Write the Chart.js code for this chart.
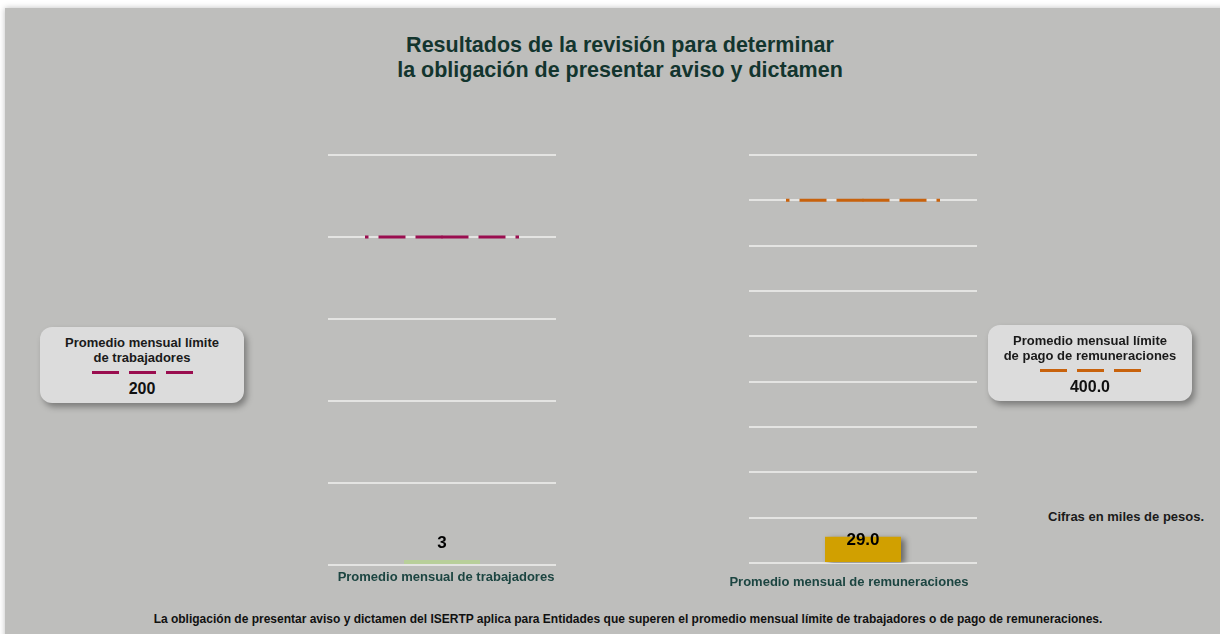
<!DOCTYPE html>
<html lang="es">
<head>
    <meta charset="UTF-8">
    <title>Resultados de la revisión ISERTP</title>
    <style>
        body {
            margin: 0;
            width: 1220px;
            height: 634px;
            overflow: hidden;
            background: #ffffff;
            font-family: "Liberation Sans", Arial, sans-serif;
            position: relative;
        }

        .panel {
            position: absolute;
            left: 5px;
            top: 8px;
            right: -10px;
            bottom: -10px;
            background: #bebebc;
            box-shadow: 0 0 6px rgba(0, 0, 0, 0.25);
        }

        .title {
            position: absolute;
            left: 0;
            width: 1240px;
            top: 33px;
            text-align: center;
            font-weight: bold;
            font-size: 21.5px;
            line-height: 25px;
            color: #13352e;
        }

        .chart {
            position: absolute;
            top: 140px;
            width: 290px;
            height: 470px;
        }

        .box {
            position: absolute;
            width: 204px;
            height: 76px;
            background: #dcdcdc;
            border-radius: 12px;
            box-shadow: 3px 4px 6px rgba(0, 0, 0, 0.35);
            text-align: center;
            font-weight: bold;
            color: #1a1a1a;
            box-sizing: border-box;
            padding-top: 8px;
        }

        .box .txt {
            font-size: 13px;
            line-height: 15px;
        }

        .box .dashes {
            display: flex;
            justify-content: center;
            gap: 10px;
            margin-top: 6px;
        }

        .box .dashes span {
            width: 27px;
            height: 3px;
        }

        .box .num {
            font-size: 16px;
            line-height: 18px;
            margin-top: 6px;
            color: #111;
        }

        .note {
            position: absolute;
            left: 1048px;
            top: 509px;
            font-size: 13px;
            font-weight: bold;
            color: #1a1a1a;
        }

        .foot {
            position: absolute;
            left: 0;
            width: 1256px;
            top: 612px;
            text-align: center;
            font-size: 12px;
            font-weight: bold;
            color: #111;
        }
    </style>
</head>
<body>
    <div class="panel"></div>

    <div class="title">Resultados de la revisión para determinar<br>la obligación de presentar aviso y dictamen</div>

    <div class="chart" style="left: 300px;"><canvas id="chartTrab"></canvas></div>
    <div class="chart" style="left: 720px;"><canvas id="chartRem"></canvas></div>

    <div class="box" style="left: 40px; top: 327px;">
        <div class="txt">Promedio mensual límite<br>de trabajadores</div>
        <div class="dashes"><span id="dashT1"></span><span id="dashT2"></span><span id="dashT3"></span></div>
        <div class="num" id="limTrabTxt"></div>
    </div>

    <div class="box" style="left: 988px; top: 325px;">
        <div class="txt">Promedio mensual límite<br>de pago de remuneraciones</div>
        <div class="dashes"><span id="dashR1"></span><span id="dashR2"></span><span id="dashR3"></span></div>
        <div class="num" id="limRemTxt"></div>
    </div>

    <div class="note">Cifras en miles de pesos.</div>

    <div class="foot">La obligación de presentar aviso y dictamen del ISERTP aplica para Entidades que superen el promedio mensual límite de trabajadores o de pago de remuneraciones.</div>

    <script src="https://cdn.jsdelivr.net/npm/chart.js"></script>
    <script>
        // datos del lado de trabajadores
        const trabLabels = ['Promedio mensual de trabajadores'];
        const trabValues = [3];
        const trabLimit = 200;
        const trabTicks = { min: 0, max: 250, step: 50 };

        // datos del lado de remuneraciones (miles de pesos)
        const remLabels = ['Promedio mensual de remuneraciones'];
        const remValues = [29.0];
        const remLimit = 400.0;
        const remTicks = { min: 0, max: 450, step: 50 };

        const colorTrab = '#b8cf9a';
        const colorRem = '#d1a000';
        const colorLimTrab = '#9a0d4f';
        const colorLimRem = '#c8620c';

        // textos y muestras de linea en los recuadros
        document.getElementById('limTrabTxt').innerText = trabLimit.toFixed(0);
        document.getElementById('limRemTxt').innerText = remLimit.toFixed(1);
        ['dashT1', 'dashT2', 'dashT3'].forEach(id => document.getElementById(id).style.background = colorLimTrab);
        ['dashR1', 'dashR2', 'dashR3'].forEach(id => document.getElementById(id).style.background = colorLimRem);

        // sombra de la barra
        const barShadow = {
            id: 'barShadow',
            beforeDatasetsDraw(chart, args, opts) {
                if (!opts.on) return;
                const ctx = chart.ctx;
                ctx.save();
                ctx.shadowColor = 'rgba(0,0,0,0.45)';
                ctx.shadowBlur = 6;
                ctx.shadowOffsetX = 4;
                ctx.shadowOffsetY = 2;
            },
            afterDatasetsDraw(chart, args, opts) {
                if (!opts.on) return;
                chart.ctx.restore();
            }
        };

        // linea punteada del limite, centrada sobre la barra
        const limitLine = {
            id: 'limitLine',
            afterDatasetsDraw(chart, args, opts) {
                const ctx = chart.ctx;
                const bar = chart.getDatasetMeta(0).data[0];
                const y = chart.scales.y.getPixelForValue(opts.value);
                const half = bar.width + 1;
                ctx.save();
                ctx.strokeStyle = opts.color;
                ctx.lineWidth = 3;
                ctx.setLineDash([27, 10]);
                // dos mitades desde el centro hacia afuera (se solapan 1px en el centro)
                [[bar.x + 0.5, bar.x - half], [bar.x - 0.5, bar.x + half]].forEach(([a, b]) => {
                    ctx.beginPath();
                    ctx.moveTo(a, y);
                    ctx.lineTo(b, y);
                    ctx.stroke();
                });
                ctx.restore();
            }
        };

        // valor sobre la barra y nombre de la categoria debajo del eje
        const barTexts = {
            id: 'barTexts',
            afterDatasetsDraw(chart, args, opts) {
                const ctx = chart.ctx;
                const ds = chart.data.datasets[0];
                const area = chart.chartArea;
                chart.getDatasetMeta(0).data.forEach((bar, i) => {
                    ctx.save();
                    ctx.textAlign = 'center';
                    ctx.textBaseline = 'middle';
                    ctx.font = 'bold 17px "Liberation Sans", Arial, sans-serif';
                    ctx.fillStyle = '#000';
                    ctx.fillText(ds.data[i].toFixed(opts.decimals), bar.x, bar.y + opts.offset);
                    ctx.font = 'bold 13px "Liberation Sans", Arial, sans-serif';
                    ctx.fillStyle = '#1c4541';
                    ctx.fillText(chart.data.labels[i], bar.x + opts.catShift, area.bottom + opts.catGap);
                    ctx.restore();
                });
            }
        };

        function makeChart(id, labels, values, ticks, color, limit, limColor, cfg) {
            return new Chart(document.getElementById(id), {
                type: 'bar',
                data: {
                    labels: labels,
                    datasets: [{
                        data: values,
                        backgroundColor: color,
                        borderWidth: 0,
                        categoryPercentage: 1,
                        barPercentage: 1 / 3
                    }]
                },
                options: {
                    responsive: true,
                    maintainAspectRatio: false,
                    animation: false,
                    layout: { padding: cfg.padding },
                    plugins: {
                        legend: { display: false },
                        tooltip: { enabled: false },
                        limitLine: { value: limit, color: limColor },
                        barTexts: cfg.texts,
                        barShadow: { on: cfg.shadow }
                    },
                    scales: {
                        x: { display: false },
                        y: {
                            min: ticks.min,
                            max: ticks.max,
                            ticks: { stepSize: ticks.step, display: false },
                            grid: { color: '#e4e4e2', lineWidth: 2, drawTicks: false },
                            border: { display: false }
                        }
                    }
                },
                plugins: [barShadow, limitLine, barTexts]
            });
        }

        makeChart('chartTrab', trabLabels, trabValues, trabTicks, colorTrab, trabLimit, colorLimTrab, {
            padding: { left: 28, right: 34, top: 15, bottom: 45 },
            texts: { decimals: 0, offset: -17, catShift: 4, catGap: 12 },
            shadow: false
        });

        makeChart('chartRem', remLabels, remValues, remTicks, colorRem, remLimit, colorLimRem, {
            padding: { left: 29, right: 33, top: 15, bottom: 47 },
            texts: { decimals: 1, offset: 4, catShift: -14, catGap: 19 },
            shadow: true
        });
    </script>
</body>
</html>
